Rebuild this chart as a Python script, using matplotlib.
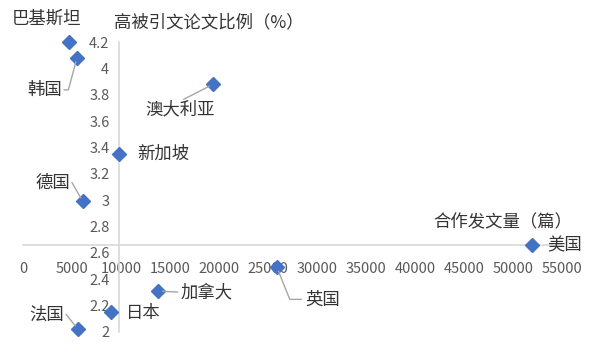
import matplotlib.pyplot as plt

plt.rcParams['font.family'] = ['Noto Sans CJK SC', 'DejaVu Sans']

# data
countries = ['巴基斯坦', '韩国', '澳大利亚', '新加坡', '德国', '法国', '日本', '加拿大', '英国', '美国']
papers = [4700, 5500, 19400, 9800, 6100, 5600, 9000, 13800, 25900, 51900]
ratio = [4.20, 4.08, 3.88, 3.35, 2.99, 2.02, 2.15, 2.31, 2.49, 2.66]
x_ticks = [0, 5000, 10000, 15000, 20000, 25000, 30000, 35000, 40000, 45000, 50000, 55000]
y_ticks = [2, 2.2, 2.4, 2.6, 2.8, 3, 3.2, 3.4, 3.6, 3.8, 4, 4.2]
x_cross = 9800
y_cross = 2.66

# label offsets (pixels), alignment, leader (connection style, start on text box)
label_pos = {
    '巴基斯坦': (-23, 23, 'center', None),
    '韩国': (-32, -32, 'center', ('angle,angleA=0,angleB=75,rad=0', (1.05, 0.5))),
    '澳大利亚': (-33, -25, 'center', ('arc3', (0.55, 1.05))),
    '新加坡': (18, 0, 'left', None),
    '德国': (-30, 19, 'center', ('arc3', (1.05, 0.5))),
    '法国': (-31, 15, 'center', ('arc3', (1.05, 0.5))),
    '日本': (15, -1, 'left', None),
    '加拿大': (22, -1, 'left', ('arc3', (-0.05, 0.5))),
    '英国': (28, -32, 'left', ('angle,angleA=0,angleB=112,rad=0', (-0.1, 0.5))),
    '美国': (16, 0, 'left', None),
}

fig = plt.figure(figsize=(5.91, 3.45), dpi=100)
ax = fig.add_axes([0.039, 0.038, 0.912, 0.840])

ax.plot(papers, ratio, 'D', color='#4472C4', ms=7.5, zorder=3, clip_on=False)

for name, x, y in zip(countries, papers, ratio):
    dx, dy, ha, lead = label_pos[name]
    props = None
    if lead:
        props = dict(arrowstyle='-', color='#A6A6A6', lw=1.0, shrinkA=0, shrinkB=3,
                     connectionstyle=lead[0], relpos=lead[1], patchA=None)
    ax.annotate(name, (x, y), xytext=(dx, dy), textcoords='offset pixels',
                ha=ha, va='center', fontsize=12.5, color='#333333',
                arrowprops=props, zorder=4, annotation_clip=False)

ax.set_xlim(0, 55000)
ax.set_ylim(2, 4.2)
ax.set_xticks(x_ticks)
ax.set_yticks(y_ticks)
ax.set_xticklabels([str(v) for v in x_ticks])
ax.set_yticklabels([f'{v:g}' for v in y_ticks])

ax.spines['left'].set_position(('data', x_cross))
ax.spines['bottom'].set_position(('data', y_cross))
ax.spines['top'].set_visible(False)
ax.spines['right'].set_visible(False)
for s in ['left', 'bottom']:
    ax.spines[s].set_color('#D9D9D9')
    ax.spines[s].set_linewidth(1.2)
ax.tick_params(axis='both', length=0, labelsize=10.5, labelcolor='#595959')
ax.tick_params(axis='x', pad=12)
ax.tick_params(axis='y', pad=7)

fig.text(209 / 591, 1 - 22 / 345, '高被引文论文比例（%）', ha='center', va='center',
         fontsize=12.5, color='#333333')
fig.text(503 / 591, 1 - 222 / 345, '合作发文量（篇）', ha='center', va='center',
         fontsize=12.5, color='#333333')

fig.savefig('out.png', dpi=100)
